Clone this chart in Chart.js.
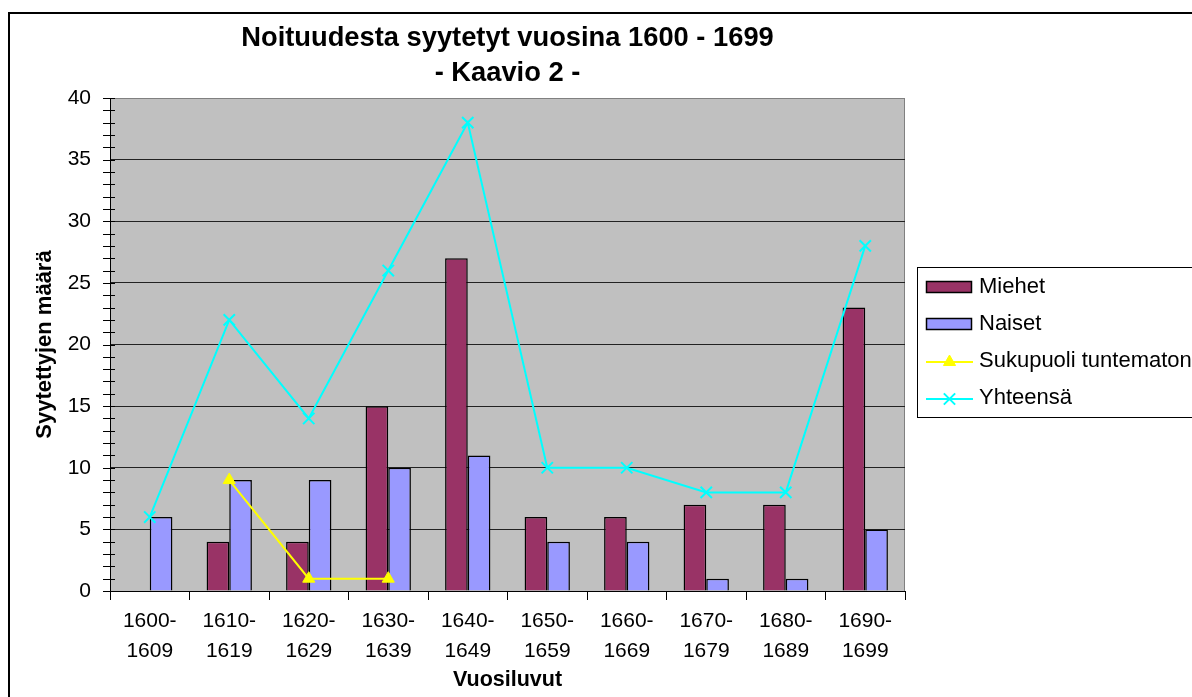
<!DOCTYPE html>
<html>
<head>
<meta charset="utf-8">
<title>Noituudesta syytetyt vuosina 1600 - 1699</title>
<script src="https://cdn.jsdelivr.net/npm/chart.js@4.4.1/dist/chart.umd.min.js"></script>
<style>
    html, body { margin: 0; padding: 0; background: #fff; }
    #kaavio { display: block; }
</style>
</head>
<body>
<canvas id="kaavio" width="1192" height="697"></canvas>
<script>
var otsikko = ['Noituudesta syytetyt vuosina 1600 - 1699', '- Kaavio 2 -'];
var vuosiluvut = [
    ['1600-', '1609'], ['1610-', '1619'], ['1620-', '1629'], ['1630-', '1639'], ['1640-', '1649'],
    ['1650-', '1659'], ['1660-', '1669'], ['1670-', '1679'], ['1680-', '1689'], ['1690-', '1699']
];
var miehet = [0, 4, 4, 15, 27, 6, 6, 7, 7, 23];
var naiset = [6, 9, 9, 10, 11, 4, 4, 1, 1, 5];
var tuntematon = [null, 9, 1, 1, null, null, null, null, null, null];
var yhteensa = [6, 22, 14, 26, 38, 10, 10, 8, 8, 28];

var fontti = 'Arial, "Liberation Sans", sans-serif';

// tausta, kehys, piirtoalue ja otsikko
var taustaPlugin = {
    id: 'tausta',
    beforeDraw: function(chart) {
        var ctx = chart.ctx;
        var a = chart.chartArea;
        ctx.save();
        ctx.fillStyle = '#fff';
        ctx.fillRect(0, 0, chart.width, chart.height);
        ctx.strokeStyle = '#000';
        ctx.lineWidth = 2;
        ctx.strokeRect(9, 13, chart.width + 20, chart.height + 20);
        ctx.fillStyle = '#c0c0c0';
        ctx.fillRect(a.left, a.top, a.right - a.left, a.bottom - a.top);
        ctx.strokeStyle = '#808080';
        ctx.lineWidth = 1;
        ctx.strokeRect(a.left + 0.5, a.top + 0.5, a.right - a.left - 1, a.bottom - a.top);
        ctx.fillStyle = '#000';
        ctx.font = 'bold 27.3px ' + fontti;
        ctx.textAlign = 'center';
        ctx.textBaseline = 'middle';
        var cx = (a.left + a.right) / 2;
        ctx.fillText(otsikko[0], cx, 38);
        ctx.fillText(otsikko[1], cx, 73);
        ctx.restore();
    },
    afterDraw: function(chart) {
        var ctx = chart.ctx;
        var y = chart.scales.y;
        var a = chart.chartArea;
        ctx.save();
        // pienet jakoviivat y-akselilla
        ctx.strokeStyle = '#000';
        ctx.lineWidth = 1;
        for (var v = 0; v <= 40; v++) {
            var py = Math.round(y.getPixelForValue(v)) + 0.5;
            ctx.beginPath();
            ctx.moveTo(a.left - 7, py);
            ctx.lineTo(a.left + 5, py);
            ctx.stroke();
        }
        piirraSelite(chart, ctx);
        ctx.restore();
    }
};

function piirraSelite(chart, ctx) {
    var x0 = 917.5, y0 = 267.5;
    ctx.fillStyle = '#fff';
    ctx.fillRect(x0, y0, 300, 150);
    ctx.strokeStyle = '#000';
    ctx.lineWidth = 1;
    ctx.strokeRect(x0, y0, 300, 150);
    ctx.font = '22px ' + fontti;
    ctx.textAlign = 'left';
    ctx.textBaseline = 'middle';
    chart.data.datasets.forEach(function(ds, i) {
        var cy = 287 + i * 37;
        if (ds.type === 'bar') {
            ctx.fillStyle = ds.backgroundColor;
            ctx.fillRect(926, cy - 5, 45, 11);
            ctx.strokeStyle = '#000';
            ctx.lineWidth = 1.5;
            ctx.strokeRect(926.5, cy - 5.5, 45, 11);
        } else {
            ctx.strokeStyle = ds.borderColor;
            ctx.lineWidth = ds.borderWidth;
            ctx.beginPath();
            ctx.moveTo(926, cy + 1);
            ctx.lineTo(973, cy + 1);
            ctx.stroke();
            ctx.fillStyle = ds.backgroundColor;
            ctx.lineWidth = ds.pointBorderWidth;
            Chart.helpers.drawPoint(ctx, { pointStyle: ds.pointStyle, radius: ds.pointRadius, rotation: 0, borderWidth: ds.pointBorderWidth }, 949.5, cy + 1);
        }
        ctx.fillStyle = '#000';
        ctx.fillText(ds.label, 979, cy);
    });
}

var ctx = document.getElementById('kaavio').getContext('2d');
var kaavio = new Chart(ctx, {
    type: 'bar',
    data: {
        labels: vuosiluvut,
        datasets: [
            { type: 'bar', label: 'Miehet', data: miehet, backgroundColor: '#993366', borderColor: '#000', borderWidth: 1.5, categoryPercentage: 0.57, barPercentage: 1, order: 2 },
            { type: 'bar', label: 'Naiset', data: naiset, backgroundColor: '#9999ff', borderColor: '#000', borderWidth: 1.5, categoryPercentage: 0.57, barPercentage: 1, order: 2 },
            { type: 'line', label: 'Sukupuoli tuntematon', data: tuntematon, borderColor: '#ffff00', backgroundColor: '#ffff00', borderWidth: 2, pointStyle: 'triangle', pointRadius: 7, pointBorderWidth: 1, pointBorderColor: '#ffff00', tension: 0, spanGaps: false, order: 1 },
            { type: 'line', label: 'Yhteensä', data: yhteensa, borderColor: '#00ffff', backgroundColor: '#00ffff', borderWidth: 2, pointStyle: 'crossRot', pointRadius: 8, pointBorderWidth: 2, pointBorderColor: '#00ffff', tension: 0, order: 0 }
        ]
    },
    options: {
        responsive: false,
        animation: false,
        layout: { padding: { left: 9, top: 98, right: 287, bottom: 0 } },
        plugins: { legend: { display: false }, title: { display: false }, tooltip: { enabled: false } },
        scales: {
            x: {
                grid: { offset: true, drawOnChartArea: false, color: '#000', tickLength: 9 },
                border: { color: '#000', width: 1 },
                ticks: { color: '#000', font: { family: fontti, size: 21, lineHeight: '30px' }, padding: 6, maxRotation: 0, autoSkip: false },
                title: { display: true, text: 'Vuosiluvut', color: '#000', font: { family: fontti, size: 21.5, weight: 'bold' }, padding: { top: 0, bottom: 4 } },
                afterFit: function(s) { s.height = 106; }
            },
            y: {
                min: 0, max: 40,
                ticks: { stepSize: 5, color: '#000', font: { family: fontti, size: 21 }, padding: 19 },
                grid: {
                    drawTicks: false,
                    color: function(c) {
                        if (c.tick.value === 40) return '#808080';
                        if (c.tick.value === 0) return 'rgba(0,0,0,0)';
                        return '#222';
                    }
                },
                border: { color: '#000', width: 1 },
                title: { display: true, text: 'Syytettyjen määrä', color: '#000', font: { family: fontti, size: 22, weight: 'bold' }, padding: { top: 23, bottom: 0 } },
                afterFit: function(s) { s.width = 101; }
            }
        }
    },
    plugins: [taustaPlugin]
});
</script>
</body>
</html>
